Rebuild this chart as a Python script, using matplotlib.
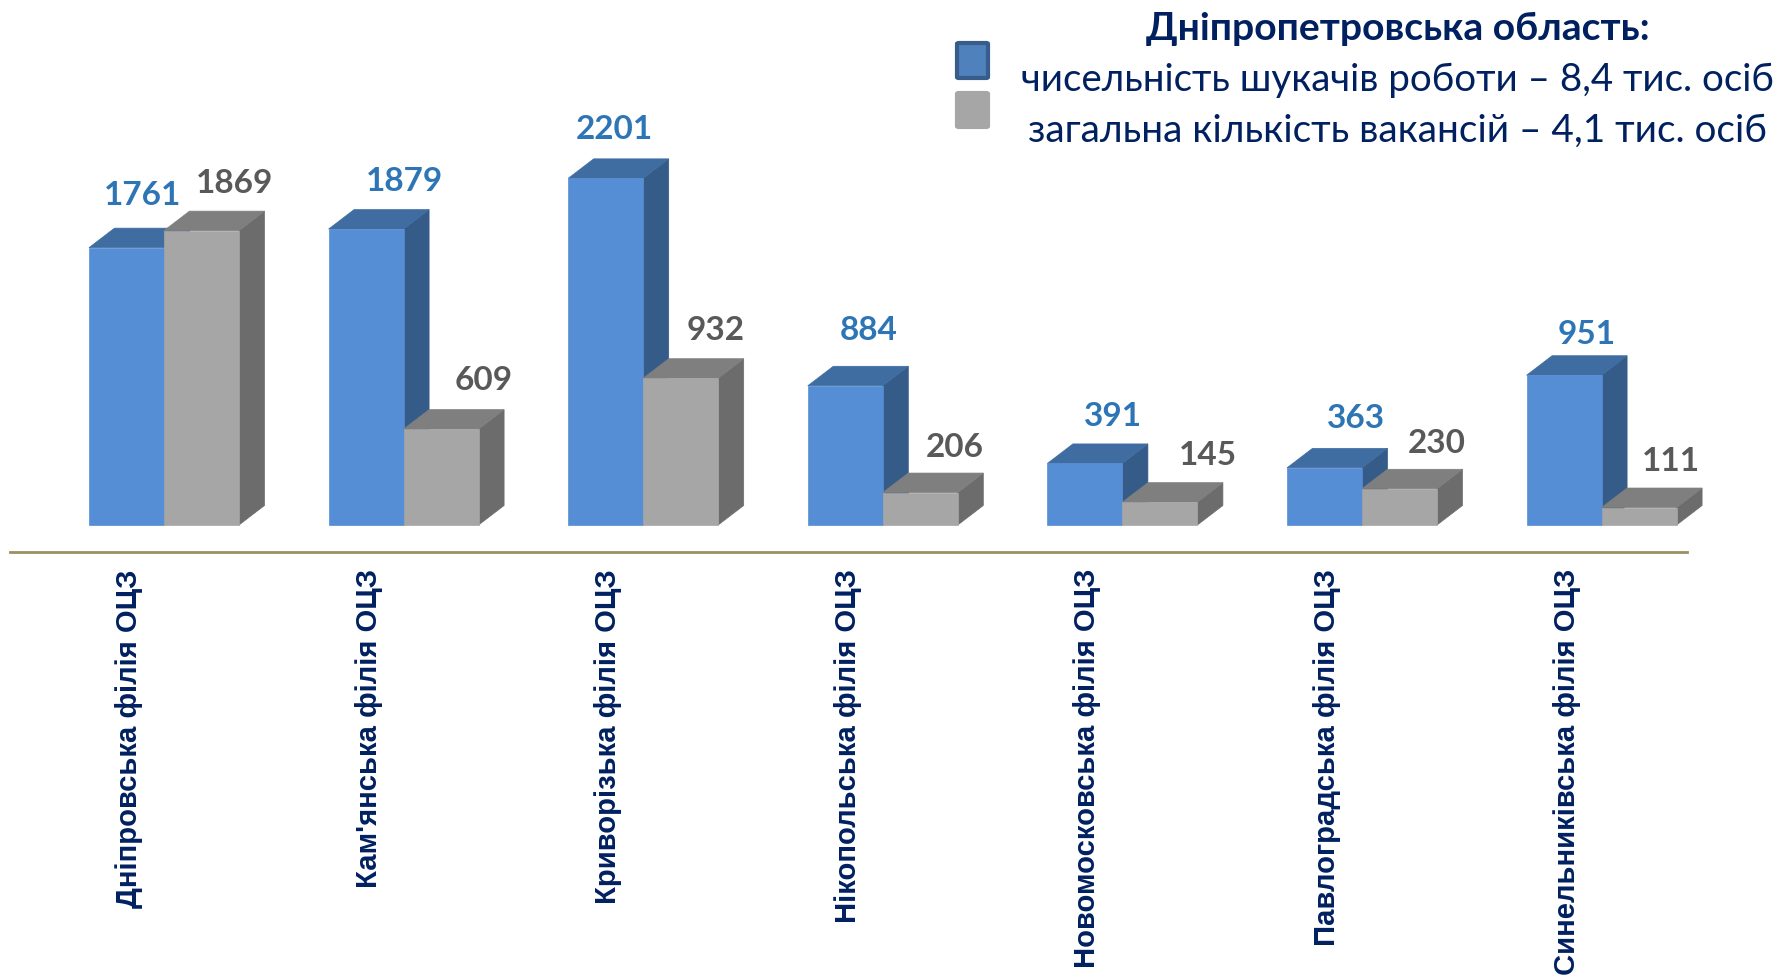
import matplotlib
matplotlib.use('Agg')
import matplotlib.pyplot as plt
from matplotlib.patches import Polygon, FancyBboxPatch

categories = ['Дніпровська філія ОЦЗ', "Кам'янська філія ОЦЗ", 'Криворізька філія ОЦЗ',
              'Нікопольська філія ОЦЗ', 'Новомосковська філія ОЦЗ', 'Павлоградська філія ОЦЗ',
              'Синельниківська філія ОЦЗ']
seekers = [1761, 1879, 2201, 884, 391, 363, 951]
vacancies = [1869, 609, 932, 206, 145, 230, 111]

title_text = 'Дніпропетровська область:'
seekers_text = 'чисельність шукачів роботи – 8,4 тис. осіб'
vacancies_text = 'загальна кількість вакансій – 4,1 тис. осіб'

# hand placed labels in the original, pixels from the bar centre / bar top
seekers_dx = [16, 38, 9, 23, 28, 32, 23]
seekers_dy = [52, 48, 49, 55, 47, 49, 41]
vacancies_dx = [33, 43, 35, 34, 48, 37, 32]
vacancies_dy = [47, 49, 48, 45, 47, 45, 46]

W, H = 1781, 977
PITCH = 239.6   # px between groups
SCALE = 0.1575  # px per unit
X0, Y0 = 164, 525  # px of first group centre and of the baseline
NAVY = '#002060'

fig = plt.figure(figsize=(W / 100, H / 100), dpi=100)
ax = fig.add_axes([0, 0, 1, 1])
ax.set_xlim(-X0 / PITCH, (W - X0) / PITCH)
ax.set_ylim((Y0 - H) / SCALE, Y0 / SCALE)
ax.axis('off')

bar_w = 75 / PITCH
depth_x = 25.5 / PITCH
depth_y = 19.5 / SCALE


def bars_3d(values, offset, front, top, side):
	for i, v in enumerate(values):
		l = i + offset
		r = l + bar_w
		ax.add_patch(Polygon([(r, 0), (r + depth_x, depth_y), (r + depth_x, v + depth_y), (r, v)],
							 facecolor=side, edgecolor=side, lw=0.5))
		ax.add_patch(Polygon([(l, v), (l + depth_x, v + depth_y), (r + depth_x, v + depth_y), (r, v)],
							 facecolor=top, edgecolor=top, lw=0.5))
		ax.bar(l, v, width=bar_w, align='edge', color=front, edgecolor=front, lw=0.5)


def value_labels(values, offset, dx, dy, color):
	for i, v in enumerate(values):
		ax.annotate(str(v), xy=(i + offset + bar_w / 2, v), xytext=(dx[i], dy[i]),
					textcoords='offset pixels', ha='center', va='center',
					fontsize=24, fontweight='bold', color=color, family=['Lato', 'DejaVu Sans'])


bars_3d(seekers, -bar_w, '#558ED5', '#406DA1', '#355B88')
bars_3d(vacancies, 0, '#A6A6A6', '#7F7F7F', '#6C6C6C')
value_labels(seekers, -bar_w, seekers_dx, seekers_dy, '#2E75B6')
value_labels(vacancies, 0, vacancies_dx, vacancies_dy, '#595959')

# baseline and rotated category names
fig.add_artist(plt.Line2D([10 / W, 1687 / W], [1 - 552 / H, 1 - 552 / H], color='#9C9160', lw=2))
for i, name in enumerate(categories):
	fig.text((X0 + i * PITCH - 35) / W, 1 - 569 / H, name, rotation=90, ha='center', va='top',
			 fontsize=21.1, fontweight='bold', color=NAVY, family='Liberation Sans')

# legend block
fig.text(1398 / W, 1 - 28 / H, title_text, ha='center', va='center', fontsize=28.2,
		 fontweight='bold', color=NAVY, family=['Lato', 'Noto Sans', 'DejaVu Sans'])
fig.text(1397 / W, 1 - 80 / H, seekers_text, ha='center', va='center', fontsize=27.7,
		 color=NAVY, family=['Lato', 'Noto Sans', 'DejaVu Sans'])
fig.text(1398 / W, 1 - 131 / H, vacancies_text, ha='center', va='center', fontsize=27.9,
		 color=NAVY, family=['Lato', 'Noto Sans', 'DejaVu Sans'])

for y0, y1, face, edge in [(43, 78, '#4F81BD', '#385D8A'), (93, 127, '#A6A6A6', '#A6A6A6')]:
	fig.add_artist(FancyBboxPatch((957 / W, 1 - y1 / H), 31 / W, (y1 - y0) / H,
								  boxstyle='round,pad=0,rounding_size=0.001', transform=fig.transFigure,
								  facecolor=face, edgecolor=edge, lw=3))

plt.savefig('out.png', dpi=100)
